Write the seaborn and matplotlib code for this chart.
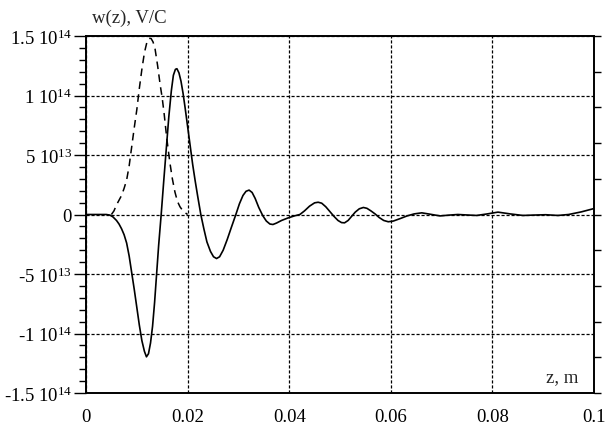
import numpy as np
import pandas as pd
import matplotlib
matplotlib.use("Agg")
import matplotlib.pyplot as plt
import seaborn as sns
from matplotlib.ticker import FixedLocator, MultipleLocator

# Wake potential w(z) (solid) and bunch shape (dashed), values in units of 1e13 V/C
z_wake = [0.0, 0.0040, 0.0047, 0.0053, 0.0060, 0.0065, 0.0070, 0.0075, 0.0080,
          0.0085, 0.0090, 0.0095, 0.0100, 0.0105, 0.0110, 0.0115, 0.0119, 0.0123,
          0.0127, 0.0131, 0.0135, 0.0139, 0.0143, 0.0148, 0.0153, 0.0158, 0.0163,
          0.0168, 0.0172, 0.0176, 0.0179, 0.0183, 0.0187, 0.0191, 0.0195, 0.0200,
          0.0205, 0.0210, 0.0215, 0.0220, 0.0226, 0.0232, 0.0238, 0.0245, 0.0251,
          0.0257, 0.0263, 0.0270, 0.0278, 0.0286, 0.0295, 0.0302, 0.0309, 0.0315,
          0.0321, 0.0327, 0.0333, 0.0340, 0.0348, 0.0355, 0.0362, 0.0368, 0.0375,
          0.0385, 0.0397, 0.0410, 0.0421, 0.0430, 0.0440, 0.0450, 0.0457, 0.0464,
          0.0472, 0.0480, 0.0488, 0.0496, 0.0503, 0.0509, 0.0516, 0.0523, 0.0530,
          0.0538, 0.0546, 0.0553, 0.0561, 0.0569, 0.0577, 0.0586, 0.0595, 0.0605,
          0.0618, 0.0632, 0.0646, 0.0661, 0.0678, 0.0697, 0.0715, 0.0732, 0.0750,
          0.0769, 0.0790, 0.0811, 0.0835, 0.0860, 0.0880, 0.0905, 0.0929, 0.0950,
          0.0975, 0.1000]
w_wake = [0.0, 0.0, -0.05, -0.2, -0.5, -0.8, -1.2, -1.7, -2.4,
          -3.5, -4.9, -6.3, -7.8, -9.3, -10.6, -11.5, -11.96, -11.7,
          -10.8, -9.4, -7.4, -5.0, -2.6, 0.0, 2.8, 5.5, 8.2,
          10.4, 11.7, 12.2, 12.25, 11.9, 11.2, 10.2, 9.0, 7.4,
          5.8, 4.2, 2.8, 1.5, 0.0, -1.2, -2.3, -3.1, -3.55,
          -3.7, -3.55, -3.0, -2.1, -1.1, 0.0, 0.9, 1.6, 1.95,
          2.05, 1.85, 1.35, 0.6, -0.1, -0.55, -0.8, -0.84, -0.72,
          -0.5, -0.3, -0.12, 0.0, 0.3, 0.7, 0.98, 1.03, 0.95,
          0.65, 0.25, -0.15, -0.5, -0.68, -0.7, -0.5, -0.15, 0.2,
          0.48, 0.59, 0.52, 0.3, 0.05, -0.25, -0.5, -0.61, -0.55,
          -0.35, -0.12, 0.05, 0.14, 0.02, -0.12, -0.05, 0.0, -0.04,
          -0.08, 0.05, 0.2, 0.05, -0.08, -0.05, -0.02, -0.08, 0.0,
          0.22, 0.5]

z_bunch = [0.0050, 0.0055, 0.0060, 0.0065, 0.0070, 0.0075, 0.0080, 0.0085,
           0.0090, 0.0095, 0.0100, 0.0105, 0.0110, 0.0115, 0.0120, 0.0124,
           0.0128, 0.0132, 0.0136, 0.0141, 0.0146, 0.0150, 0.0154, 0.0159,
           0.0165, 0.0170, 0.0175, 0.0180, 0.0185, 0.0190, 0.0195, 0.0200]
w_bunch = [0.0, 0.3, 0.8, 1.2, 1.6, 2.2, 2.9, 4.1,
           5.7, 7.3, 8.8, 10.6, 12.2, 13.6, 14.5, 14.8,
           14.8, 14.5, 13.9, 12.5, 10.9, 9.8, 8.4, 6.4,
           4.4, 3.0, 1.9, 1.1, 0.65, 0.35, 0.15, 0.0]

x_ticks = [0.0, 0.02, 0.04, 0.06, 0.08, 0.1]
x_labels = ["0", "0.02", "0.04", "0.06", "0.08", "0.1"]
y_ticks = [-1.5e14, -1e14, -5e13, 0.0, 5e13, 1e14, 1.5e14]
y_labels = [r"-1.5 10$^{14}$", r"-1 10$^{14}$", r"-5 10$^{13}$", "0",
            r"5 10$^{13}$", r"1 10$^{14}$", r"1.5 10$^{14}$"]

sns.set_style("white")
plt.rcParams["font.family"] = ["Liberation Serif", "DejaVu Serif"]
plt.rcParams["mathtext.fontset"] = "custom"
plt.rcParams["mathtext.rm"] = "Liberation Serif"
plt.rcParams["mathtext.it"] = "Liberation Serif"
plt.rcParams["mathtext.default"] = "rm"

FS = 13.5

wake = pd.DataFrame({"z": z_wake, "w": np.array(w_wake) * 1e13})
bunch = pd.DataFrame({"z": z_bunch, "w": np.array(w_bunch) * 1e13})

fig = plt.figure(figsize=(6.09, 4.27), dpi=100)
ax = fig.add_axes([86 / 609, 1 - 394 / 427, 508 / 609, 357 / 427])

sns.lineplot(data=wake, x="z", y="w", ax=ax, color="black", lw=1.2,
             sort=False, estimator=None)
sns.lineplot(data=bunch, x="z", y="w", ax=ax, color="black", lw=1.1,
             sort=False, estimator=None, linestyle=(0, (5, 3.5)))

ax.set_xlim(0, 0.1)
ax.set_ylim(-1.5e14, 1.5e14)
ax.set_xlabel("")
ax.set_ylabel("")

ax.xaxis.set_major_locator(FixedLocator(x_ticks))
ax.set_xticklabels(x_labels)
ax.xaxis.set_minor_locator(MultipleLocator(0.005))
ax.yaxis.set_major_locator(FixedLocator(y_ticks))
ax.set_yticklabels(y_labels)
ax.yaxis.set_minor_locator(MultipleLocator(1e13))

ax.tick_params(axis="both", which="major", direction="out", length=9,
               width=1.0, color="black", labelsize=FS, labelcolor="black")
ax.tick_params(axis="both", which="minor", direction="out", length=5,
               width=1.0, color="black")
ax.tick_params(axis="x", which="major", pad=2)
ax.tick_params(axis="y", which="major", pad=1)

# right-hand scale ticks every 3e13
axr = ax.twinx()
axr.set_ylim(ax.get_ylim())
axr.yaxis.set_major_locator(MultipleLocator(3e13))
axr.tick_params(axis="y", which="major", direction="out", length=5,
                width=1.0, color="black", labelright=False)
for s in axr.spines.values():
    s.set_visible(False)

ax.grid(True, which="major", color="black", lw=0.9, linestyle=(0, (2.5, 1.5)))
for s in ax.spines.values():
    s.set_visible(True)
    s.set_color("black")
    s.set_linewidth(1.4)

fig.text(92 / 609, 1 - 23 / 427, "w(z), V/C", fontsize=FS, ha="left",
         va="baseline")
ax.text(0.970, 0.032, "z, m", transform=ax.transAxes, fontsize=FS,
        ha="right", va="baseline")

fig.savefig("out.png", dpi=100, facecolor="white")
